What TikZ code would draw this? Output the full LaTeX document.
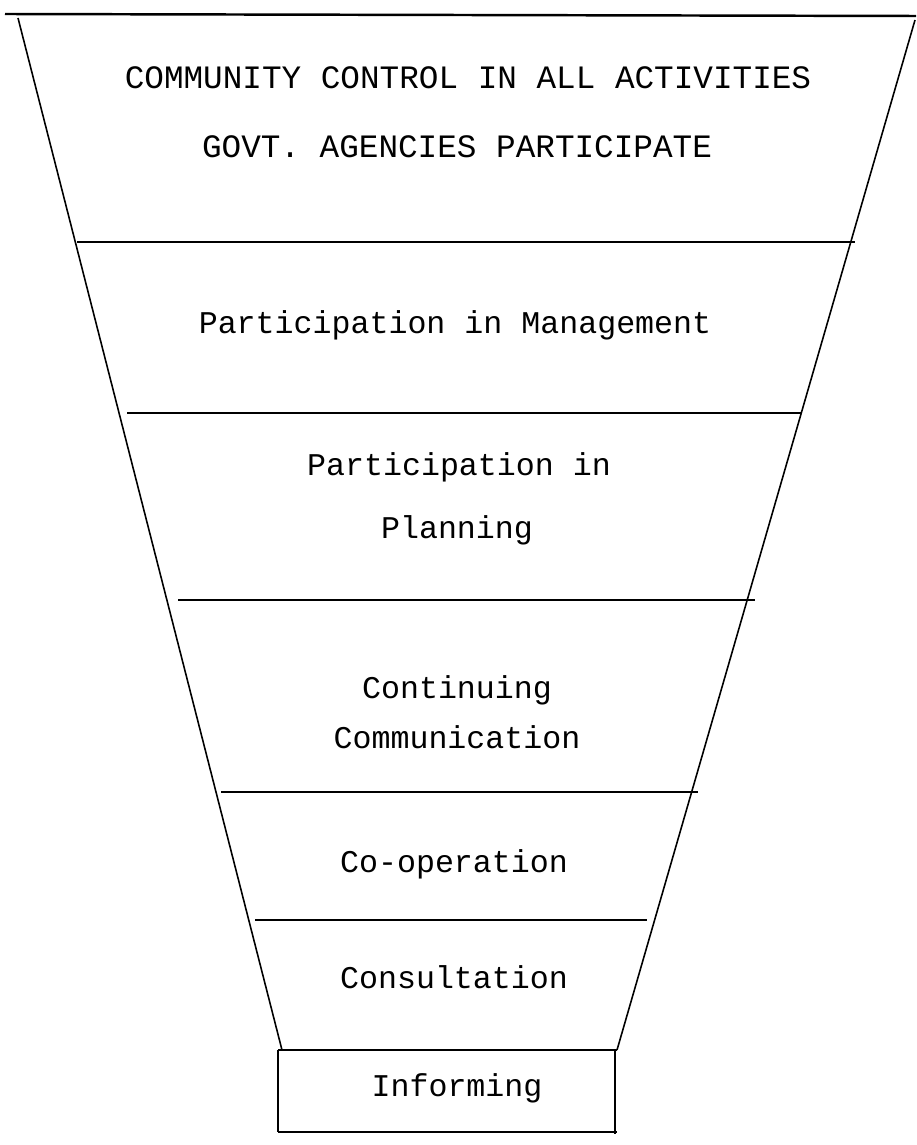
\documentclass[tikz,border=0pt]{standalone}
\usepackage{fontspec}
\setmonofont{Liberation Mono}
\usepackage{tikz}

\tikzset{
  stage/.style={font=\ttfamily\fontsize{18}{22}\selectfont, align=center, inner sep=0pt},
  capstage/.style={stage, font=\ttfamily\fontsize{18.6}{22}\selectfont},
  rung/.style={line width=1.1pt},
  side/.style={line width=0.9pt}
}

\begin{document}
\begin{tikzpicture}[x=0.02cm,y=-0.02cm]
			\useasboundingbox (0,0) rectangle (916,1145);
			% funnel outline
			\coordinate (tl) at (18,18);
			\coordinate (tr) at (915,20);
			\coordinate (bl) at (282,1050);
			\coordinate (br) at (617,1050);
			\draw[rung, line width=1.4pt] (5,14) -- (916,16);
			\draw[side] (tl) -- (bl);
			\draw[side] (tr) -- (br);
			% steps of the ladder
			\draw[rung] (77,242) -- (855,242);
			\draw[rung] (127,413) -- (801,413);
			\draw[rung] (178,600) -- (755,600);
			\draw[rung] (221,792) -- (698,792);
			\draw[rung] (255,920) -- (647,920);
			% bottom box
			\draw[side] (278,1050) -- (617,1050);
			\draw[side] (278,1132) -- (617,1132);
			\draw[line width=1.2pt] (278,1050) -- (278,1132);
			\draw[line width=1.6pt] (615,1050) -- (615,1134);
			% texts
			\node[capstage] (control) at (468,78) {COMMUNITY CONTROL IN ALL ACTIVITIES};
			\node[capstage] (govt) at (457,147) {GOVT. AGENCIES PARTICIPATE};
			\node[stage] (mgmt) at (455,325) {Participation in Management};
			\node[stage] (plan1) at (459,467) {Participation in};
			\node[stage] (plan2) at (457,530) {Planning};
			\node[stage] (cont1) at (457,690) {Continuing};
			\node[stage] (cont2) at (457,737) {Communication};
			\node[stage] (coop) at (454,864) {Co-operation};
			\node[stage] (consult) at (454,977) {Consultation};
			\node[stage] (inform) at (457,1088) {Informing};
		\end{tikzpicture}
\end{document}
